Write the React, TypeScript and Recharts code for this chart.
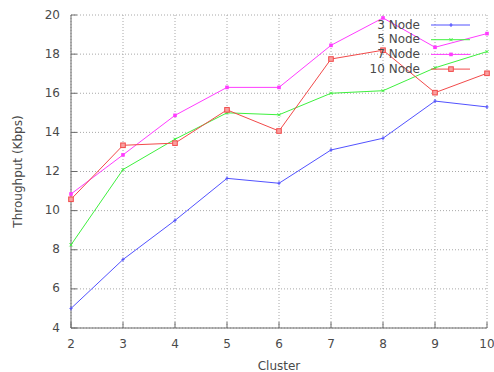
import { CartesianGrid, Line, LineChart, XAxis, YAxis } from "recharts";

// Cluster sizes on the x axis
const clusters = [2, 3, 4, 5, 6, 7, 8, 9, 10];

// Throughput (Kbps) per series
const node3 = [5.0, 7.5, 9.5, 11.65, 11.4, 13.1, 13.7, 15.6, 15.3];
const node5 = [8.25, 12.1, 13.65, 15.0, 14.9, 16.0, 16.13, 17.3, 18.13];
const node7 = [10.85, 12.85, 14.87, 16.3, 16.3, 18.45, 19.85, 18.35, 19.05];
const node10 = [10.58, 13.34, 13.45, 15.15, 14.07, 17.75, 18.2, 16.03, 17.02];

const yTicks = [4, 6, 8, 10, 12, 14, 16, 18, 20];

const seriesNames = ["3 Node", "5 Node", "7 Node", "10 Node"];
const seriesKeys = ["n3", "n5", "n7", "n10"];
const seriesColors = ["#5252ff", "#3ef03e", "#ff3cff", "#f24a4a"];
const seriesMarks = ["plus", "cross", "fillsq", "opensq"];

const data = clusters.map((c, i) => ({
  cluster: c,
  n3: node3[i],
  n5: node5[i],
  n7: node7[i],
  n10: node10[i],
}));

const FONT = "'DejaVu Sans', sans-serif";
const TEXT = "#4a4a4a";
const FRAME = "#6a6a6a";

function Mark({ cx, cy, kind, color }: { cx: number; cy: number; kind: string; color: string }) {
  if (cx == null || cy == null) return null;
  if (kind === "plus") {
    return (
      <g stroke={color} strokeWidth={1}>
        <line x1={cx - 1.5} y1={cy} x2={cx + 1.5} y2={cy} />
        <line x1={cx} y1={cy - 2} x2={cx} y2={cy + 2} />
      </g>
    );
  }
  if (kind === "cross") {
    return (
      <g stroke={color} strokeWidth={1}>
        <line x1={cx - 1.5} y1={cy - 1.5} x2={cx + 1.5} y2={cy + 1.5} />
        <line x1={cx - 1.5} y1={cy + 1.5} x2={cx + 1.5} y2={cy - 1.5} />
      </g>
    );
  }
  if (kind === "fillsq") {
    return <rect x={cx - 1.8} y={cy - 1.8} width={3.6} height={3.6} fill={color} />;
  }
  return (
    <g>
      <rect x={cx - 2.3} y={cy - 2.3} width={4.6} height={4.6} fill="#f8a0a0" stroke={color} strokeWidth={1} />
    </g>
  );
}

function BottomTick({ x, y, payload }: any) {
  return (
    <g>
      <line x1={x} y1={y} x2={x} y2={y - 6} stroke={FRAME} />
      <text x={x} y={y + 16} textAnchor="middle" dominantBaseline="middle" fill={TEXT} fontSize={12} fontFamily={FONT}>
        {payload.value}
      </text>
    </g>
  );
}

function TopTick({ x, y }: any) {
  return <line x1={x} y1={y} x2={x} y2={y + 6} stroke={FRAME} />;
}

function LeftTick({ x, y, payload }: any) {
  return (
    <g>
      <line x1={x} y1={y} x2={x + 6} y2={y} stroke={FRAME} />
      <text x={x - 11} y={y} textAnchor="end" dominantBaseline="middle" fill={TEXT} fontSize={12} fontFamily={FONT}>
        {payload.value}
      </text>
    </g>
  );
}

function RightTick({ x, y }: any) {
  return <line x1={x} y1={y} x2={x - 6} y2={y} stroke={FRAME} />;
}

function KeyBox() {
  return (
    <svg width={494} height={372} style={{ position: "absolute", left: 0, top: 0, pointerEvents: "none" }}>
      {seriesNames.map((name, i) => {
        const cy = 25 + i * 14.7;
        return (
          <g key={name}>
            <text x={420} y={cy} textAnchor="end" dominantBaseline="middle" fill={TEXT} fontSize={12} fontFamily={FONT}>
              {name}
            </text>
            <line x1={431} y1={cy} x2={470} y2={cy} stroke={seriesColors[i]} />
            <Mark cx={451} cy={cy} kind={seriesMarks[i]} color={seriesColors[i]} />
          </g>
        );
      })}
    </svg>
  );
}

export default function App() {
  return (
    <div style={{ position: "absolute", left: 0, top: 0, width: 494, height: 372, background: "#fff" }}>
      <LineChart width={494} height={372} data={data} margin={{ top: 15, right: 7, bottom: 0, left: 0 }}>
        <CartesianGrid stroke="#a8a8a8" strokeDasharray="1 2" />
        <XAxis
          dataKey="cluster"
          type="number"
          domain={[2, 10]}
          ticks={clusters}
          tickSize={0}
          tickMargin={0}
          tickLine={false}
          axisLine={{ stroke: FRAME }}
          tick={<BottomTick />}
          height={44}
          interval={0}
          label={{ value: "Cluster", position: "insideBottom", offset: 2, fill: TEXT, fontSize: 12, fontFamily: FONT }}
        />
        <XAxis
          xAxisId="top"
          dataKey="cluster"
          type="number"
          orientation="top"
          domain={[2, 10]}
          ticks={clusters}
          tickSize={0}
          tickMargin={0}
          tickLine={false}
          axisLine={{ stroke: FRAME }}
          tick={<TopTick />}
          height={0}
          interval={0}
        />
        <YAxis
          type="number"
          domain={[4, 20]}
          ticks={yTicks}
          width={71}
          tickSize={0}
          tickMargin={0}
          tickLine={false}
          axisLine={{ stroke: FRAME }}
          tick={<LeftTick />}
          interval={0}
          label={{ value: "Throughput (Kbps)", angle: -90, position: "insideLeft", offset: 18, style: { textAnchor: "middle" }, fill: TEXT, fontSize: 12, fontFamily: FONT }}
        />
        <YAxis
          yAxisId="right"
          orientation="right"
          type="number"
          domain={[4, 20]}
          ticks={yTicks}
          width={0}
          tickSize={0}
          tickMargin={0}
          tickLine={false}
          axisLine={{ stroke: FRAME }}
          tick={<RightTick />}
          interval={0}
        />
        {seriesKeys.map((k, i) => (
          <Line
            key={k}
            dataKey={k}
            type="linear"
            stroke={seriesColors[i]}
            strokeWidth={1}
            isAnimationActive={false}
            dot={(p: any) => <Mark key={`${k}-${p.index}`} cx={p.cx} cy={p.cy} kind={seriesMarks[i]} color={seriesColors[i]} />}
            activeDot={false}
          />
        ))}
      </LineChart>
      <KeyBox />
    </div>
  );
}
